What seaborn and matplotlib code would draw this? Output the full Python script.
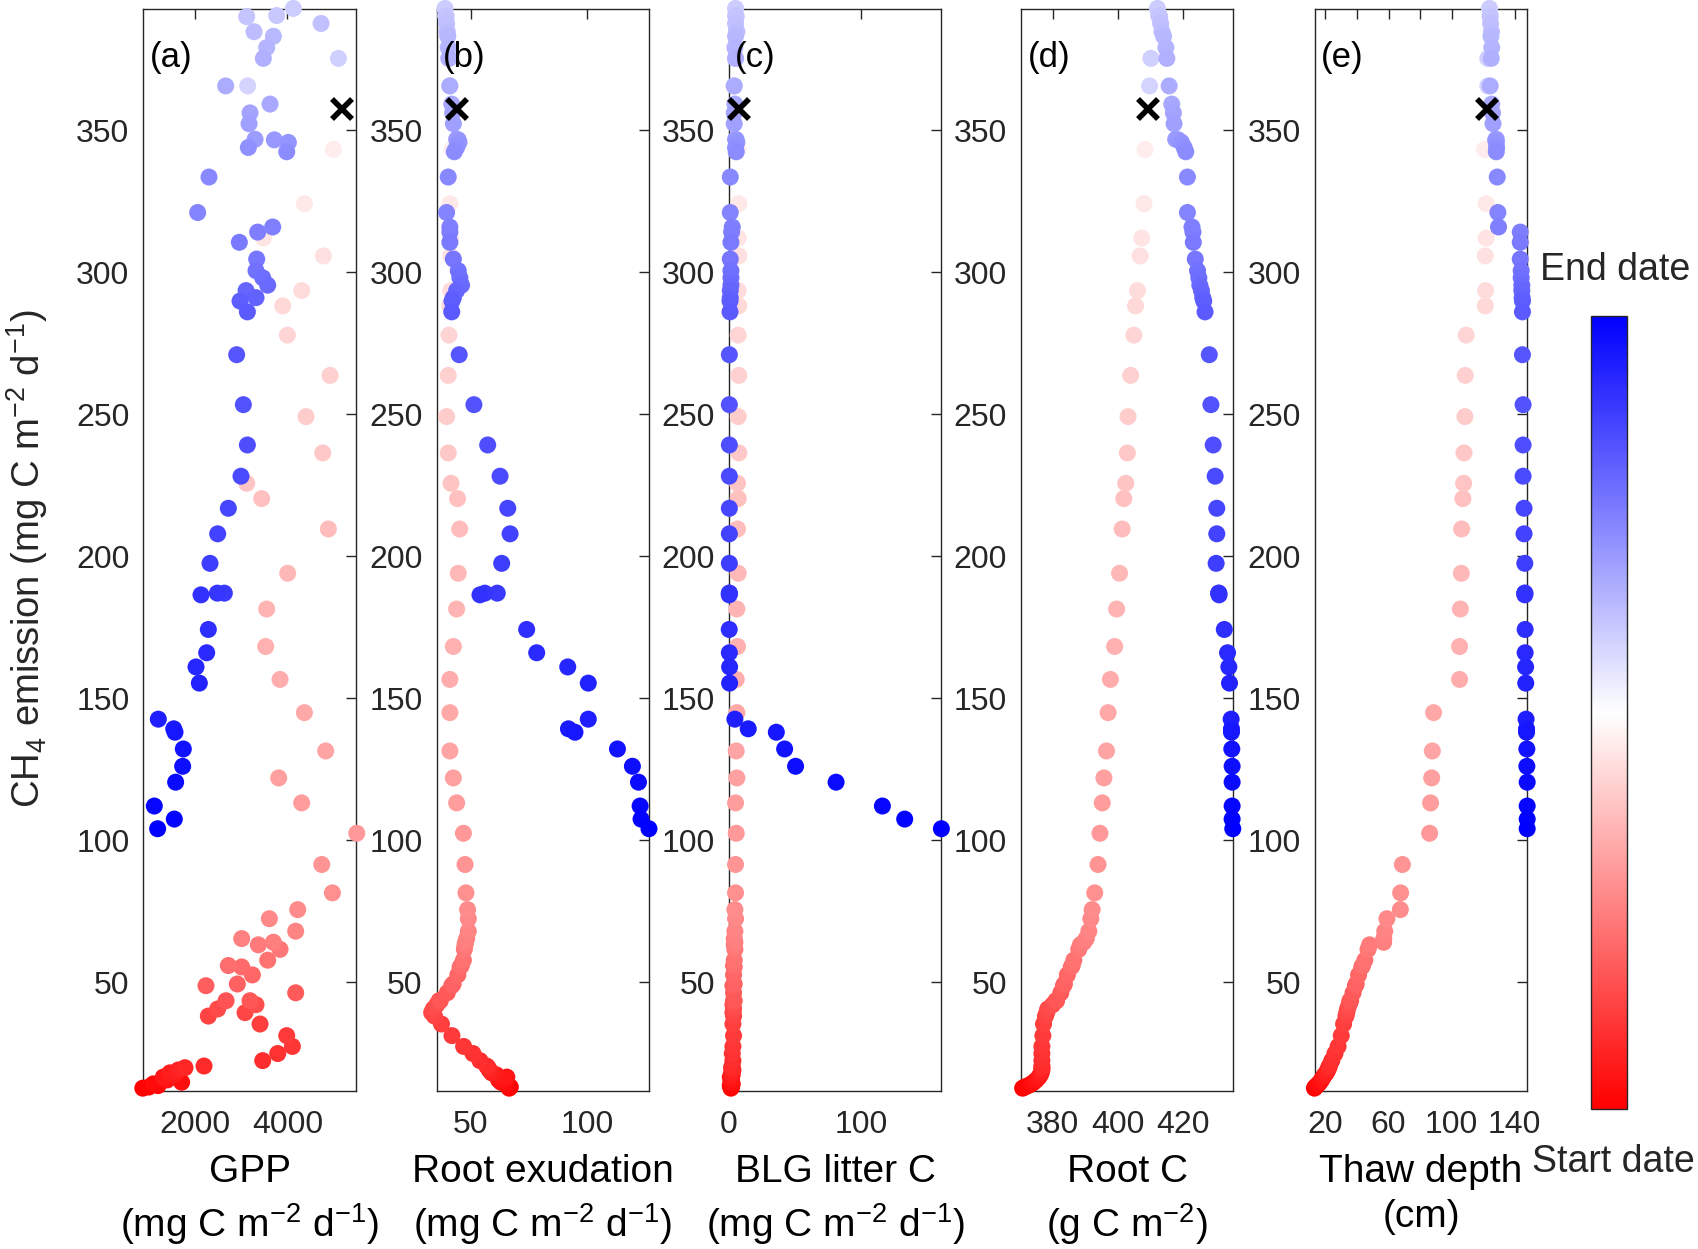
import numpy as np
import matplotlib
matplotlib.use('Agg')
import matplotlib.pyplot as plt
import seaborn as sns
from matplotlib.colors import LinearSegmentedColormap, Normalize
from matplotlib.cm import ScalarMappable

# %%
# one entry per date, in date order (start -> end)
# first 61 entries: rising phase (red half), last 55: after the peak (blue half)
ch4 = [12.6, 13.0, 13.5, 14.1, 14.7, 15.5, 16.5, 17.3, 18.0, 19.0,
       19.8, 20.4, 22.3, 24.8, 27.3, 31.1, 35.2, 38.0, 39.2, 40.5,
       42.0, 43.4, 43.4, 46.2, 48.7, 49.3, 52.5, 55.3, 55.8, 57.7,
       61.5, 63.1, 64.0, 65.3, 67.9, 72.3, 75.5, 81.4, 91.4, 102.4,
       113.1, 121.9, 131.4, 144.9, 156.6, 168.2, 181.4, 194.0, 209.6, 220.3,
       225.7, 236.4, 249.2, 263.7, 277.9, 288.2, 293.6, 305.8, 312.1, 324.2,
       343.3,
       365.7, 375.4,
       393.0, 390.5, 390.1, 387.7, 384.8, 383.2, 379.2, 375.4, 365.7, 359.3,
       356.2, 352.4, 346.9, 346.7, 345.8, 344.0, 342.5, 333.6, 321.1, 316.0,
       314.2, 310.6, 304.7, 300.6, 298.1, 295.5, 293.6, 291.1, 289.9, 286.1,
       271.0, 253.4, 239.2, 228.2, 216.9, 207.9, 197.5, 187.0, 187.0, 186.4,
       174.2, 166.0, 161.0, 155.3, 142.6, 139.2, 138.0, 132.1, 126.0, 120.4,
       112.0, 107.4, 104.0]

gpp = [870, 1000, 1200, 1097, 1711, 1400, 1314, 1550, 1458, 1639,
       1783, 2195, 3466, 3791, 4108, 3986, 3408, 2289, 3083, 2491,
       3321, 2672, 3191, 4180, 2238, 2917, 3242, 3011, 2722, 3574,
       3841, 3372, 3697, 3011, 4180, 3610, 4224, 4975, 4744, 5502,
       4310, 3812, 4830, 4368, 3841, 3530, 3552, 4007, 4888, 3444,
       3119, 4765, 4404, 4924, 4000, 3899, 4310, 4780, 3480, 4368,
       4996,
       3141, 5105,
       4130, 3769, 3119, 4729, 3278, 3697, 3552, 3480, 2664, 3625,
       3191, 3170, 3300, 3718, 4022, 3155, 3986, 2303, 2058, 3682,
       3357, 2960, 3336, 3321, 3466, 3574, 3105, 3321, 2975, 3134,
       2902, 3047, 3134, 2996, 2722, 2491, 2325, 2635, 2484, 2130,
       2289, 2253, 2022, 2094, 1206, 1540, 1567, 1747, 1733, 1581,
       1119, 1552, 1191]

root_exud = [66.5, 67.0, 66.0, 65.0, 63.0, 62.0, 65.5, 61.0, 59.0, 58.0,
             57.5, 56.9, 54.0, 51.0, 47.0, 42.0, 37.5, 34.5, 33.3, 34.0,
             35.5, 36.5, 37.0, 40.0, 41.9, 42.5, 44.5, 45.5, 46.0, 46.9,
             47.3, 47.6, 47.8, 48.3, 49.0, 49.0, 48.7, 48.0, 47.6, 46.9,
             44.0, 42.6, 41.1, 41.1, 41.1, 42.6, 44.0, 44.7, 45.3, 44.4,
             41.6, 40.4, 39.7, 40.4, 40.7, 41.0, 41.5, 41.5, 41.3, 41.1,
             42.0,
             41.0, 40.5,
             39.0, 39.3, 39.5, 39.7, 40.0, 40.2, 40.4, 40.8, 41.1, 41.9,
             42.3, 42.6, 44.0, 44.7, 45.0, 44.0, 43.0, 40.4, 39.7, 41.1,
             41.1, 41.1, 42.6, 44.7, 45.4, 46.1, 44.0, 42.6, 42.0, 41.9,
             45.1, 51.4, 57.3, 62.6, 65.9, 66.9, 63.3, 61.4, 56.1, 54.0,
             74.0, 78.3, 91.6, 100.4, 100.4, 91.9, 94.7, 112.9, 119.3, 121.9,
             122.6, 123.0, 126.4]

blg_litter = [1.5, 2.0, 1.0, 2.5, 1.5, 2.0, 1.0, 2.5, 2.0, 3.0,
              2.0, 2.5, 3.0, 2.5, 3.0, 3.5, 3.0, 3.5, 3.0, 3.5,
              3.0, 3.5, 4.0, 3.5, 3.0, 4.0, 3.5, 4.0, 3.5, 4.0,
              4.5, 4.0, 4.5, 4.0, 4.5, 5.0, 4.5, 5.0, 5.0, 5.5,
              5.0, 6.0, 5.5, 6.0, 5.5, 6.5, 6.0, 7.0, 6.5, 7.0,
              6.5, 7.5, 7.0, 7.5, 7.0, 7.5, 7.0, 7.5, 7.0, 7.5,
              7.0,
              4.0, 5.0,
              5.0, 5.0, 5.5, 5.0, 6.0, 5.0, 4.5, 5.0, 4.0, 4.5,
              4.0, 4.0, 5.0, 5.5, 6.0, 5.0, 5.5, 1.0, 1.0, 2.5,
              2.0, 1.5, 1.0, 1.5, 1.5, 1.5, 1.0, 1.0, 0.8, 0.8,
              0.3, 0.3, 0.3, 0.3, 0.3, 0.3, 0.3, 0.3, 0.3, 0.2,
              0.2, 0.3, 0.5, 0.5, 4.5, 14.6, 35.9, 42.2, 50.5, 81.2,
              116.3, 133.2, 161.0]

root_c = [370.8, 371.5, 372.5, 373.5, 374.2, 375.0, 375.8, 376.2, 376.5, 376.7,
          376.7, 376.7, 376.7, 376.7, 376.7, 377.0, 377.2, 377.8, 378.2, 378.5,
          380.0, 381.0, 381.2, 382.5, 383.3, 383.6, 384.5, 385.7, 386.0, 386.5,
          388.0, 388.5, 389.5, 390.3, 391.1, 391.7, 392.1, 392.9, 393.9, 394.5,
          395.2, 395.7, 396.5, 397.0, 397.7, 399.0, 399.6, 400.5, 401.3, 401.8,
          402.4, 402.9, 403.1, 403.9, 404.9, 405.4, 406.0, 406.8, 407.3, 408.0,
          408.3,
          409.7, 410.1,
          412.1, 412.5, 412.8, 413.1, 413.5, 414.0, 414.7, 415.0, 415.7, 416.5,
          417.0, 417.2, 417.7, 418.5, 419.5, 420.3, 420.8, 421.3, 421.3, 422.7,
          423.0, 423.1, 423.7, 424.4, 424.8, 425.1, 425.6, 426.0, 426.3, 426.7,
          428.0, 428.5, 429.2, 429.8, 430.3, 430.3, 430.1, 430.9, 430.9, 431.0,
          432.6, 433.6, 434.0, 434.2, 434.7, 434.8, 434.8, 434.9, 435.0, 435.0,
          435.0, 435.0, 435.2]

thaw = [13.0, 13.5, 14.5, 15.5, 16.5, 17.5, 18.5, 19.5, 20.5, 21.5,
        22.0, 22.5, 24.0, 26.0, 28.0, 30.0, 31.5, 33.0, 33.5, 34.0,
        35.0, 35.5, 36.0, 37.5, 39.0, 39.5, 41.0, 43.0, 43.5, 45.0,
        47.0, 48.0, 56.9, 57.0, 57.6, 59.0, 67.5, 67.7, 68.8, 86.1,
        86.7, 87.4, 87.8, 88.6, 105.1, 105.1, 105.6, 106.2, 106.4, 107.2,
        107.7, 107.9, 108.5, 108.7, 109.3, 121.4, 121.6, 121.4, 122.0, 122.0,
        121.0,
        123.0, 123.0,
        124.1, 124.5, 124.5, 124.8, 125.3, 125.0, 125.5, 125.2, 124.5, 125.5,
        126.0, 126.3, 128.4, 128.0, 128.4, 128.6, 128.4, 129.0, 129.4, 129.8,
        143.6, 143.6, 143.6, 144.2, 144.2, 144.6, 144.6, 144.8, 145.0, 145.0,
        145.0, 145.4, 145.4, 145.4, 146.0, 146.0, 146.5, 146.5, 146.5, 146.5,
        146.7, 146.7, 147.0, 147.1, 147.3, 147.6, 147.6, 147.8, 147.8, 148.0,
        148.0, 148.0, 148.0]

# day number of each record (daily, with a gap in the record around the peak)
day = list(range(0, 61)) + list(range(76, 131))

# the black cross in every panel
mark_ch4 = 357.6
mark_x = [5190, 44.0, 7.5, 409.3, 122.5]

panel_tags = ['(a)', '(b)', '(c)', '(d)', '(e)']
x_titles = ['GPP\n(mg C m$^{-2}$ d$^{-1}$)',
            'Root exudation\n(mg C m$^{-2}$ d$^{-1}$)',
            'BLG litter C\n(mg C m$^{-2}$ d$^{-1}$)',
            'Root C\n(g C m$^{-2}$)',
            'Thaw depth\n(cm)']
x_ticks = [[2000, 4000], [50, 100], [0, 100], [380, 400, 420],
           [20, 40, 60, 80, 100, 120, 140]]
x_ticklabels = [['2000', '4000'], ['50', '100'], ['0', '100'],
                ['380', '400', '420'],
                ['20', '', '60', '', '100', '', '140']]
x_limits = [(881, 5480), (35.4, 126.4), (0, 161), (370.3, 435.4), (13.2, 148.0)]
y_ticks = [50, 100, 150, 200, 250, 300, 350]

# %%
sns.set_theme(style='white')
plt.rcParams['font.family'] = ['Liberation Sans', 'DejaVu Sans']
plt.rcParams['mathtext.fontset'] = 'custom'
plt.rcParams['mathtext.rm'] = 'Liberation Sans'
plt.rcParams['mathtext.it'] = 'Liberation Sans:italic'
plt.rcParams['mathtext.bf'] = 'Liberation Sans:bold'

dark = '#262626'
rwb = LinearSegmentedColormap.from_list('rwb', ['#ff0000', '#ffffff', '#0000ff'])
drivers = [gpp, root_exud, blg_litter, root_c, thaw]
day_range = (min(day), max(day))

fig = plt.figure(figsize=(16.98, 12.49), dpi=100)
lefts = [0.0844, 0.2571, 0.4293, 0.6013, 0.7743]

for i, xs in enumerate(drivers):
    ax = fig.add_axes([lefts[i], 0.1265, 0.1251, 0.8663])
    sns.scatterplot(x=xs, y=ch4, hue=day, palette=rwb, hue_norm=day_range,
                    s=150, linewidth=0, legend=False, ax=ax, clip_on=False, zorder=3)
    ax.plot([mark_x[i]], [mark_ch4], 'x', color='black', ms=14, mew=4, zorder=5,
            clip_on=False)
    ax.set_xlim(x_limits[i])
    ax.set_ylim(11.6, 392.8)
    ax.set_xticks(x_ticks[i])
    ax.set_xticklabels(x_ticklabels[i])
    ax.set_yticks(y_ticks)
    ax.tick_params(direction='in', length=7.5, width=1.0, top=True, right=True,
                   colors=dark, labelsize=23)
    ax.tick_params(axis='x', pad=14)
    ax.tick_params(axis='y', pad=10)
    for sp in ax.spines.values():
        sp.set_color(dark)
        sp.set_linewidth(1.0)
    ax.set_xlabel(x_titles[i], fontsize=28, color='black', linespacing=1.3,
                  labelpad=10)
    ax.set_ylabel('')
    ax.text(0.03, 0.955, panel_tags[i], transform=ax.transAxes, fontsize=25,
            ha='left', va='center', color='black')

fig.text(0.016, 0.553, r'CH$_4$ emission (mg C m$^{-2}$ d$^{-1}$)', rotation=90,
         ha='center', va='center', fontsize=27.5)

# colour bar for the date
cax = fig.add_axes([0.9370, 0.1121, 0.0212, 0.6349])
cb = fig.colorbar(ScalarMappable(norm=Normalize(*day_range), cmap=rwb), cax=cax)
cb.set_ticks([])
cb.outline.set_edgecolor(dark)
cb.outline.set_linewidth(1.0)
fig.text(0.951, 0.784, 'End date', ha='center', va='center', fontsize=27)
fig.text(0.950, 0.0697, 'Start date', ha='center', va='center', fontsize=27)

fig.savefig('out.png', dpi=100)
